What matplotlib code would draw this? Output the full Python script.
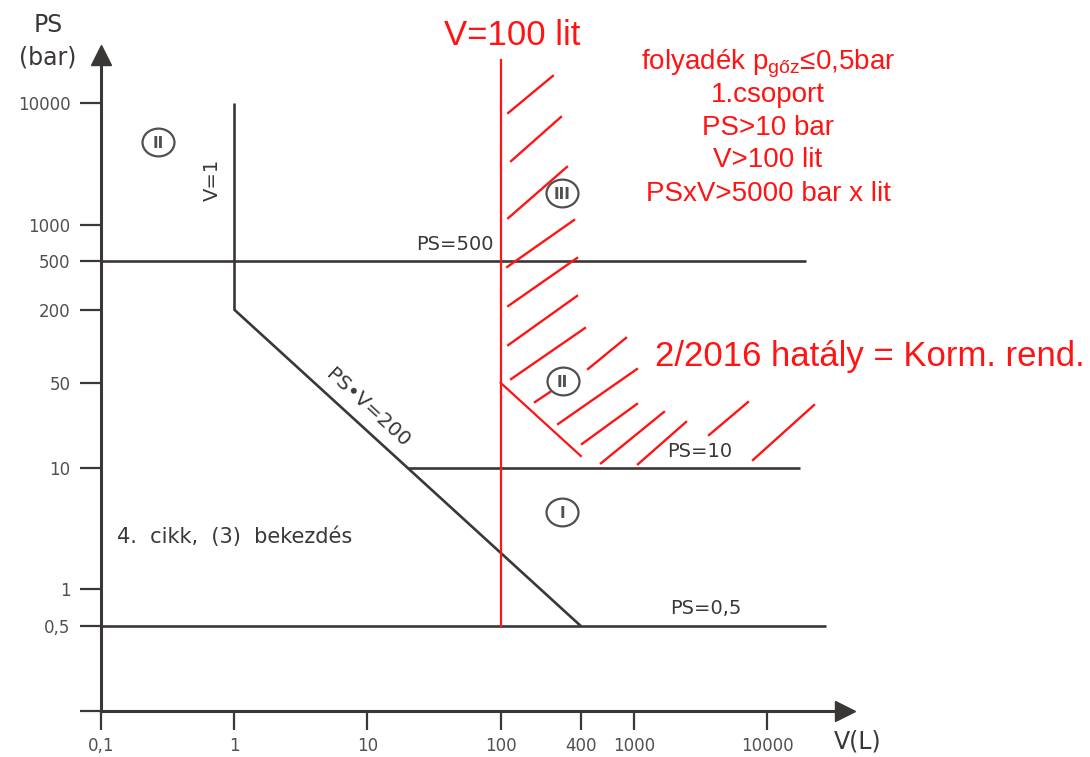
import matplotlib
matplotlib.use('Agg')
import matplotlib.pyplot as plt
import numpy as np
from matplotlib.path import Path

plt.rcParams['font.family'] = ['Liberation Sans', 'DejaVu Sans']

# ---------------- data ----------------
x_ticks = [0.1, 1, 10, 100, 400, 1000, 10000]
x_tick_labels = ['0,1', '1', '10', '100', '400', '1000', '10000']
y_ticks = [0.1, 0.5, 1, 10, 50, 200, 500, 1000, 10000]
y_tick_labels = ['', '0,5', '1', '10', '50', '200', '500', '1000', '10000']

# black boundary lines (V in litre, PS in bar)
v1_line_v = [1, 1]
v1_line_ps = [200, 10000]
psv200_v = [1, 400]
psv200_ps = [200, 0.5]
ps500_v = [0.1, 19500]
ps500_ps = [500, 500]
ps10_v = [20, 17700]
ps10_ps = [10, 10]
ps05_v = [0.1, 27700]
ps05_ps = [0.5, 0.5]

# red lines
red_v100_v = [100, 100]
red_v100_ps = [0.5, 22600]
red_psv5000_v = [100, 400]
red_psv5000_ps = [50, 12.5]

# red hand-drawn hatch strokes (start V, start PS, end V, end PS)
hatch_v0 = [114, 120, 114, 112, 114, 114, 120, 453, 181, 270, 408, 567, 1075, 3669, 7852]
hatch_ps0 = [8280, 3330, 1130, 448, 214, 102, 53.7, 64.9, 34.7, 22.9, 15.7, 10.9, 10.7, 18.6, 11.6]
hatch_v1 = [247, 284, 315, 356, 375, 375, 430, 874, 235, 1057, 1057, 1685, 2465, 7199, 22530]
hatch_ps1 = [16700, 7670, 2980, 1090, 531, 259, 141, 117, 42, 64.9, 33.5, 28.8, 23.8, 34.7, 32.8]

# category markers
category_labels = ['II', 'III', 'II', 'I']
category_v = [0.268, 289, 292, 289]
category_ps = [4775, 1820, 51.8, 4.33]

red_block_lines = ['folyadék p$_{\\mathregular{gőz}}$≤0,5bar', '1.csoport',
                   'PS>10 bar', 'V>100 lit', 'PSxV>5000 bar x lit']
red_block_ps = [21000, 11570, 6195, 3383, 1796]

# ---------------- style ----------------
DARK = '#3b3737'
GRAY = '#505050'
RED = '#ff1414'

fig = plt.figure(figsize=(10.9, 7.57), dpi=100)
ax = fig.add_axes([101 / 1090, 46 / 757, 744 / 1090, 656 / 757])
ax.set_xscale('log')
ax.set_yscale('log')
ax.set_xlim(0.1, 38500)
ax.set_ylim(0.1, 24800)

for s in ['top', 'right']:
    ax.spines[s].set_visible(False)
for s in ['left', 'bottom']:
    ax.spines[s].set_linewidth(2.2)
    ax.spines[s].set_color(DARK)

ax.xaxis.set_minor_locator(matplotlib.ticker.NullLocator())
ax.yaxis.set_minor_locator(matplotlib.ticker.NullLocator())
ax.set_xticks(x_ticks)
ax.set_xticklabels(x_tick_labels)
ax.set_yticks(y_ticks)
ax.set_yticklabels(y_tick_labels)
ax.tick_params(axis='x', direction='out', length=13.5, width=1.6, color=DARK,
               labelcolor=GRAY, labelsize=12, pad=5)
ax.tick_params(axis='y', direction='out', length=15, width=1.6, color=DARK,
               labelcolor=GRAY, labelsize=12, pad=7)
for lab in ax.get_xticklabels() + ax.get_yticklabels():
    lab.set_family('DejaVu Sans')

# arrow heads
ax.plot(1, 0, marker='>', ms=15, color=DARK, transform=ax.transAxes, clip_on=False)
ax.plot(0, 1, marker='^', ms=15, color=DARK, transform=ax.transAxes, clip_on=False)

# black lines
for xs, ys in [(v1_line_v, v1_line_ps), (psv200_v, psv200_ps), (ps500_v, ps500_ps),
               (ps10_v, ps10_ps), (ps05_v, ps05_ps)]:
    ax.plot(xs, ys, color=DARK, lw=1.9, solid_capstyle='butt', clip_on=False)

# red lines
ax.plot(red_v100_v, red_v100_ps, color=RED, lw=1.6, clip_on=False)
ax.plot(red_psv5000_v, red_psv5000_ps, color=RED, lw=1.6, clip_on=False)
for a, b, c, d in zip(hatch_v0, hatch_ps0, hatch_v1, hatch_ps1):
    ax.plot([a, c], [b, d], color=RED, lw=1.7, clip_on=False)

# category circles
circ = Path.unit_circle()
ell = Path(circ.vertices * np.array([1.15, 1.0]), circ.codes)
ax.scatter(category_v, category_ps, s=23 ** 2, marker=ell, facecolors='white',
           edgecolors=GRAY, linewidths=1.6, zorder=5)
for lab, v, p in zip(category_labels, category_v, category_ps):
    ax.annotate(lab, (v, p), xytext=(0, -4.2), textcoords='offset points',
                ha='center', va='baseline', fontsize=11, fontweight='bold',
                color=GRAY, family='DejaVu Sans', zorder=6)

# dark labels
lab_kw = dict(color=DARK, family='DejaVu Sans', ha='center', va='center')
ax.text(0.69, 2328, 'V=1', rotation=90, fontsize=14, **lab_kw)
ax.text(45.5, 680, 'PS=500', fontsize=14, **lab_kw)
ax.text(10.1, 31, 'PS•V=200', rotation=-42.6, rotation_mode='anchor', fontsize=14.5, **lab_kw)
ax.text(3141, 13.5, 'PS=10', fontsize=14, **lab_kw)
ax.text(3484, 0.703, 'PS=0,5', fontsize=14, **lab_kw)
ax.text(0.132, 2.7, '4.  cikk,  (3)  bekezdés', fontsize=15, color=DARK,
        family='DejaVu Sans', ha='left', va='center')

fig.text(48 / 1090, 1 - 25 / 757, 'PS', fontsize=17, color=DARK, family='DejaVu Sans',
         ha='center', va='center')
fig.text(48 / 1090, 1 - 58 / 757, '(bar)', fontsize=17, color=DARK, family='DejaVu Sans',
         ha='center', va='center')
fig.text(858 / 1090, 1 - 742 / 757, 'V(L)', fontsize=17, color=DARK, family='DejaVu Sans',
         ha='center', va='center')

# red labels
ax.text(121.8, 36200, 'V=100 lit', fontsize=25, color=RED, ha='center', va='center')
for line, p in zip(red_block_lines, red_block_ps):
    ax.text(10175, p, line, fontsize=20, color=RED, ha='center', va='center')
ax.text(59300, 81.5, '2/2016 hatály = Korm. rend.', fontsize=25, color=RED,
        ha='center', va='center')

fig.savefig('out.png', dpi=100)
